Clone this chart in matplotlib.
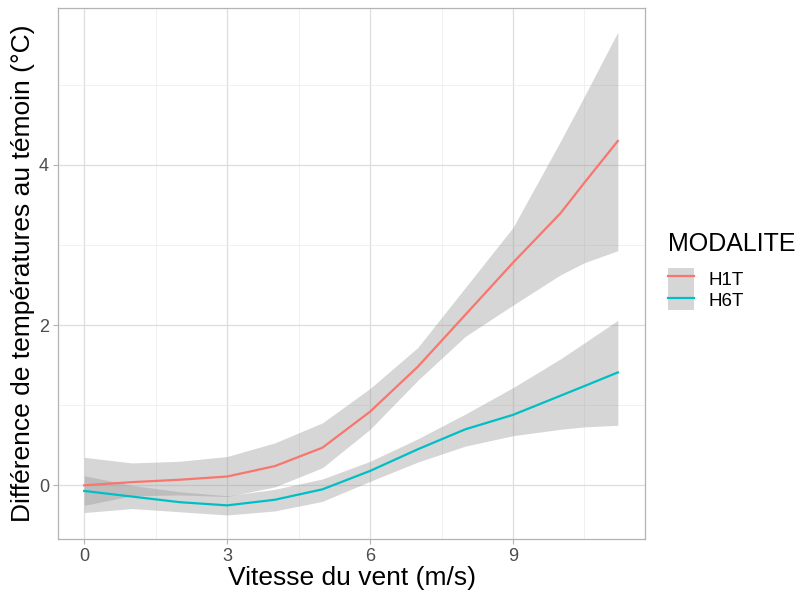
import matplotlib
matplotlib.use("Agg")
import matplotlib.pyplot as plt
from matplotlib.patches import Patch
from matplotlib.lines import Line2D
from matplotlib.ticker import MultipleLocator

plt.rcParams['font.family'] = ['Liberation Sans', 'DejaVu Sans']

# vitesse du vent (m/s)
vent = [0, 1, 2, 3, 4, 5, 6, 7, 8, 9, 10, 10.5, 11.2]

# H1T : courbe lissee + intervalle de confiance
h1t = [0.0, 0.04, 0.07, 0.11, 0.24, 0.47, 0.92, 1.48, 2.13, 2.78, 3.40, 3.78, 4.30]
h1t_haut = [0.35, 0.28, 0.30, 0.36, 0.53, 0.78, 1.21, 1.72, 2.47, 3.22, 4.30, 4.86, 5.66]
h1t_bas = [-0.25, -0.13, -0.12, -0.14, -0.02, 0.22, 0.70, 1.31, 1.86, 2.25, 2.63, 2.78, 2.93]

# H6T
h6t = [-0.07, -0.14, -0.21, -0.25, -0.18, -0.05, 0.18, 0.45, 0.70, 0.88, 1.12, 1.24, 1.41]
h6t_haut = [0.12, 0.0, -0.08, -0.13, -0.05, 0.08, 0.30, 0.58, 0.89, 1.22, 1.58, 1.78, 2.06]
h6t_bas = [-0.34, -0.29, -0.33, -0.37, -0.32, -0.20, 0.05, 0.29, 0.49, 0.62, 0.70, 0.73, 0.75]

modalites = ['H1T', 'H6T']

rouge = '#F8766D'
turquoise = '#00BFC4'
gris_ruban = '#999999'

fig = plt.figure(figsize=(8.01, 6.01), dpi=100)
ax = fig.add_axes([58 / 801, 62 / 601, 587 / 801, 531 / 601])

ax.fill_between(vent, h1t_bas, h1t_haut, color=gris_ruban, alpha=0.4, linewidth=0)
ax.fill_between(vent, h6t_bas, h6t_haut, color=gris_ruban, alpha=0.4, linewidth=0)
ax.plot(vent, h1t, color=rouge, linewidth=1.6)
ax.plot(vent, h6t, color=turquoise, linewidth=1.6)

ax.set_xlim(-0.55, 11.77)
ax.set_ylim(-0.67, 5.96)
ax.xaxis.set_major_locator(MultipleLocator(3))
ax.xaxis.set_minor_locator(MultipleLocator(1.5))
ax.yaxis.set_major_locator(MultipleLocator(2))
ax.yaxis.set_minor_locator(MultipleLocator(1))

ax.grid(which='major', color='#DEDEDE', linewidth=0.9)
ax.grid(which='minor', color='#EBEBEB', linewidth=0.5)
ax.set_axisbelow(True)
for s in ax.spines.values():
    s.set_color('#B3B3B3')
    s.set_linewidth(0.9)
ax.tick_params(which='major', color='#B3B3B3', length=3.5, width=0.8,
               labelsize=13, labelcolor='#4D4D4D', pad=3)
ax.tick_params(which='minor', length=0)

ax.set_xlabel('Vitesse du vent (m/s)', fontsize=19, labelpad=1)
ax.set_ylabel('Différence de températures au témoin (°C)', fontsize=19, labelpad=3)

# legende : titre place a part, cles grises avec la ligne coloree
fig.text(668 / 801, 1 - 244 / 601, 'MODALITE', fontsize=18, va='center', ha='left')
poignees = [
    (Patch(facecolor='#D6D6D6', edgecolor='none'), Line2D([], [], color=rouge, linewidth=1.6)),
    (Patch(facecolor='#D6D6D6', edgecolor='none'), Line2D([], [], color=turquoise, linewidth=1.6)),
]
fig.legend(poignees, modalites, loc='upper left',
           bbox_to_anchor=(668 / 801, 1 - 268 / 601), frameon=False,
           fontsize=13.5, handlelength=1.39, handleheight=1.36,
           handletextpad=0.75, labelspacing=0.0, borderpad=0, borderaxespad=0)

fig.savefig('out.png', dpi=100)
